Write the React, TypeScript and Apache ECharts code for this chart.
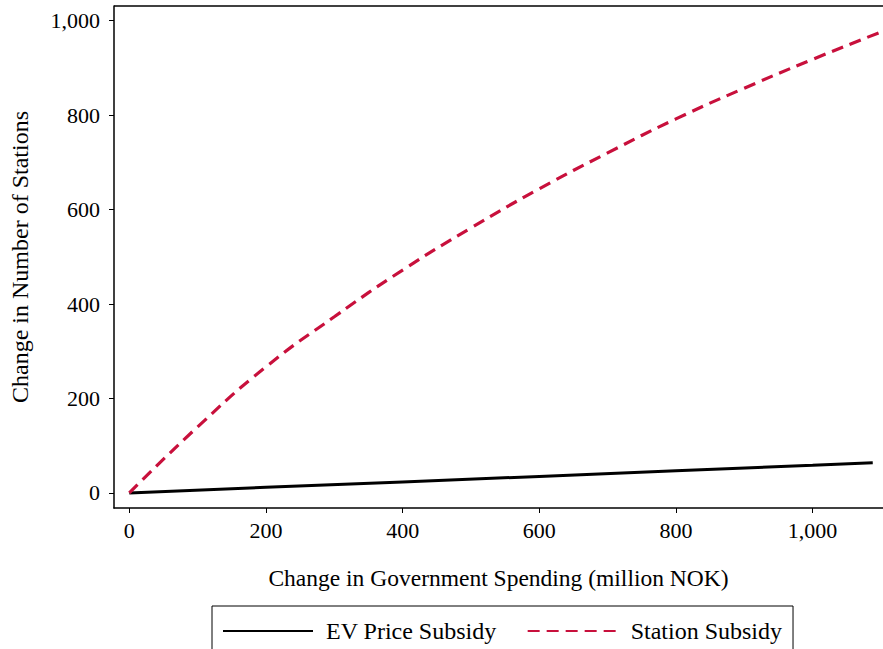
import React, { useEffect, useRef } from "react";
import * as echarts from "echarts";

const spending = [0, 100, 200, 300, 400, 500, 600, 700, 800, 900, 1000, 1100];
const stationSubsidy = [0, 140, 267, 373, 472, 561, 644, 720, 792, 857, 918, 976];
const evSpending = [0, 200, 400, 600, 800, 1000, 1088];
const evPriceSubsidy = [0, 12, 23.5, 35, 47, 58.5, 64];
const xTicks = [0, 200, 400, 600, 800, 1000];
const yTicks = [0, 200, 400, 600, 800, 1000];

const FONT = "'Liberation Serif', 'Times New Roman', serif";
const RED = "#c8103c";

export default function App() {
  const ref = useRef<HTMLDivElement>(null);
  useEffect(() => {
    if (!ref.current) return;
    const chart = echarts.init(ref.current, null, { renderer: "svg" });
    const fmt = (v: number) => v.toLocaleString("en-US");
    chart.setOption({
      animation: false,
      backgroundColor: "#ffffff",
      textStyle: { fontFamily: FONT, color: "#000" },
      grid: { left: 114, top: 6, right: 0, bottom: 141 },
      xAxis: {
        type: "value",
        min: -22.4,
        max: 1103,
        interval: 200,
        name: "Change in Government Spending (million NOK)",
        nameLocation: "middle",
        nameGap: 58,
        nameTextStyle: { fontFamily: FONT, fontSize: 23.5, color: "#000" },
        axisLine: { show: true, onZero: false, lineStyle: { color: "#000", width: 1.5 } },
        axisTick: { show: true, length: 5, lineStyle: { color: "#000", width: 1 }, customValues: xTicks },
        axisLabel: { fontFamily: FONT, fontSize: 22, color: "#000", margin: 11, formatter: fmt, customValues: xTicks, showMinLabel: true, showMaxLabel: true },
        splitLine: { show: false },
      },
      yAxis: {
        type: "value",
        min: -31.8,
        max: 1031,
        name: "Change in Number of Stations",
        nameLocation: "middle",
        nameGap: 82,
        nameRotate: 90,
        nameTextStyle: { fontFamily: FONT, fontSize: 24, color: "#000" },
        axisLine: { show: true, onZero: false, lineStyle: { color: "#000", width: 1.5 } },
        axisTick: { show: true, length: 5, lineStyle: { color: "#000", width: 1 }, customValues: yTicks },
        axisLabel: { fontFamily: FONT, fontSize: 22, color: "#000", margin: 14, formatter: fmt, customValues: yTicks },
        splitLine: { show: false },
      },
      legend: {
        left: 212,
        top: 606,
        padding: [13, 11, 24, 10],
        borderColor: "#000",
        borderWidth: 1,
        borderRadius: 0,
        itemWidth: 90,
        itemHeight: 10,
        itemGap: 30,
        itemStyle: { opacity: 0 },
        textStyle: { fontFamily: FONT, fontSize: 24, color: "#000", padding: [0, 0, 0, 8] },
        data: ["EV Price Subsidy", "Station Subsidy"],
      },
      graphic: [
        {
          type: "line",
          shape: { x1: 114, y1: 6, x2: 883, y2: 6 },
          style: { stroke: "#000", lineWidth: 1.5 },
        },
      ],
      series: [
        {
          name: "EV Price Subsidy",
          type: "line",
          symbol: "none",
          data: evSpending.map((x, i) => [x, evPriceSubsidy[i]]),
          lineStyle: { color: "#000", width: 3 },
          itemStyle: { color: "#000" },
        },
        {
          name: "Station Subsidy",
          type: "line",
          symbol: "none",
          smooth: true,
          data: spending.map((x, i) => [x, stationSubsidy[i]]),
          lineStyle: { color: RED, width: 3.2, type: [12, 7] },
          itemStyle: { color: RED },
        },
      ],
    });
    return () => chart.dispose();
  }, []);
  return (
    <div
      ref={ref}
      style={{ position: "absolute", left: 0, top: 0, width: 883, height: 649, background: "#fff" }}
    />
  );
}
